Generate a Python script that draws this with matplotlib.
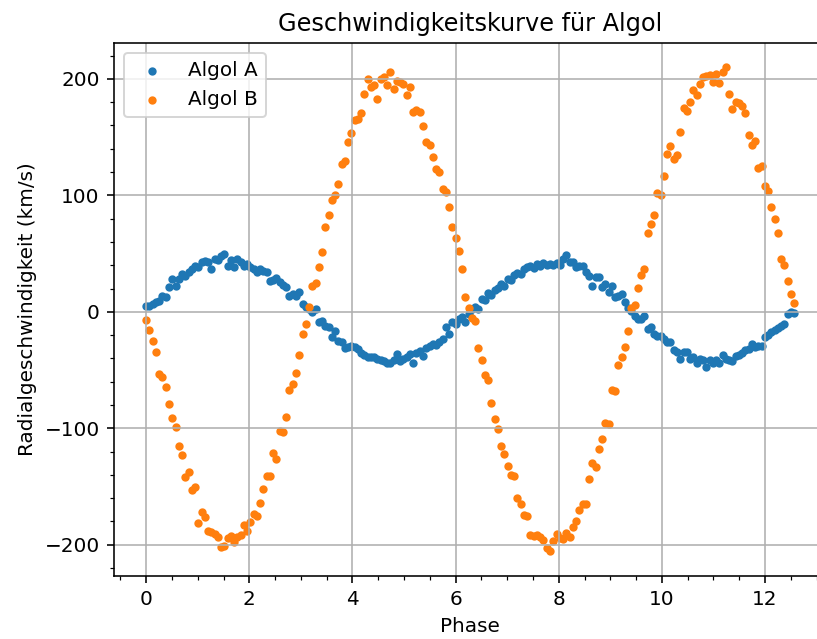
import numpy as np
import matplotlib
matplotlib.use("Agg")
import matplotlib.pyplot as plt

# 200 equally spaced phase samples over two full periods
phase = np.linspace(0, 4 * np.pi, 200)

# radial velocity of Algol A (km/s)
algol_a = [
    5.2, 4.9, 6.6, 8.0, 9.5, 13.8, 12.9, 21.0, 28.1, 22.4,
    28.1, 32.4, 30.8, 33.9, 36.8, 39.6, 38.4, 42.5, 43.9, 43.0,
    36.8, 45.4, 44.1, 48.2, 49.7, 39.6, 44.8, 38.2, 45.4, 42.5,
    39.6, 41.2, 38.2, 36.8, 33.9, 36.8, 35.3, 34.4, 26.7, 27.5,
    29.1, 25.3, 23.4, 21.0, 13.8, 15.1, 13.8, 16.7, 6.6, 4.2,
    2.3, -0.5, 2.3, -9.1, -7.7, -12.0, -13.4, -22.0, -16.4, -25.0,
    -26.3, -31.5, -30.6, -29.4, -30.6, -32.1, -35.0, -37.2, -39.2, -38.5,
    -39.2, -40.7, -41.3, -42.6, -43.6, -44.2, -41.8, -36.4, -42.2, -40.7,
    -38.9, -36.4, -44.2, -35.0, -33.6, -37.9, -31.2, -29.3, -27.8, -28.9,
    -26.3, -23.5, -13.4, -19.2, -9.1, -10.4, -6.3, -4.8, -8.9, -2.0,
    2.1, 3.9, 2.5, 11.2, 9.8, 16.1, 14.3, 18.6, 20.1, 23.7,
    22.4, 28.3, 26.9, 31.2, 33.6, 32.1, 36.5, 38.4, 39.6, 37.8,
    40.9, 39.4, 41.7, 40.2, 41.1, 39.8, 42.3, 40.6, 45.1, 48.7,
    42.6, 42.5, 38.2, 39.6, 39.0, 33.9, 31.0, 22.4, 29.6, 29.9,
    21.0, 23.6, 16.7, 22.4, 12.4, 13.8, 15.2, 8.1, 3.6, 0.9,
    -3.8, -6.3, -6.3, -3.4, -15.1, -13.4, -19.2, -21.1, -20.6, -23.5,
    -26.1, -25.8, -33.0, -34.2, -40.9, -34.1, -34.4, -40.7, -39.1, -44.2,
    -40.8, -41.3, -47.0, -41.3, -43.6, -41.3, -44.2, -37.3, -40.5, -41.3,
    -42.2, -37.9, -36.8, -35.5, -33.2, -32.1, -27.8, -30.4, -29.3, -29.3,
    -22.0, -20.3, -17.7, -15.5, -13.8, -12.0, -10.6, -2.0, -0.5, -1.1,
]

# radial velocity of Algol B (km/s)
algol_b = [
    -7.2, -15.6, -24.8, -34.2, -53.7, -55.9, -64.8, -79.3, -91.2, -99.1,
    -115.4, -123.2, -141.8, -137.9, -153.1, -150.2, -181.7, -172.3, -176.1, -187.9,
    -189.2, -190.6, -193.1, -202.3, -201.1, -194.2, -192.1, -197.3, -193.2, -191.8,
    -183.1, -188.3, -180.2, -173.4, -175.1, -164.2, -152.3, -141.1, -140.8, -121.2,
    -126.1, -102.3, -103.1, -90.2, -67.3, -62.1, -52.4, -37.1, -19.2, -10.3,
    4.1, 22.4, 24.7, 38.2, 51.1, 72.6, 83.5, 96.2, 99.9, 109.9,
    127.1, 129.1, 145.8, 153.6, 164.4, 165.9, 171.0, 187.4, 200.3, 193.2,
    194.5, 183.1, 200.3, 201.8, 194.5, 206.1, 191.7, 198.0, 197.5, 196.0,
    186.0, 193.2, 171.6, 173.2, 171.6, 159.6, 145.8, 142.9, 132.9, 122.8,
    120.0, 105.6, 102.8, 89.9, 72.6, 63.4, 52.5, 36.8, 12.4, 3.1,
    -5.1, -8.3, -31.2, -41.4, -54.6, -58.3, -77.9, -92.1, -100.4, -115.2,
    -122.3, -132.1, -140.2, -141.0, -160.3, -165.1, -174.8, -175.6, -191.7, -192.3,
    -191.5, -193.0, -196.2, -203.1, -205.8, -196.4, -190.9, -194.2, -195.1, -190.3,
    -193.2, -185.1, -179.4, -170.2, -165.3, -164.8, -143.2, -130.1, -133.4, -118.2,
    -109.1, -95.3, -96.1, -67.2, -68.4, -46.1, -39.2, -29.8, -16.3, 3.4,
    6.1, 20.2, 31.8, 37.1, 67.9, 75.2, 83.4, 101.8, 100.2, 116.3,
    135.9, 142.1, 131.2, 134.4, 154.1, 175.2, 172.3, 180.4, 190.1, 186.2,
    196.0, 201.3, 202.1, 203.0, 197.2, 204.1, 196.3, 206.2, 209.8, 187.1,
    174.2, 179.8, 179.1, 176.9, 170.3, 152.1, 143.2, 147.0, 123.1, 125.2,
    108.3, 104.1, 90.2, 80.1, 67.8, 45.2, 40.1, 26.3, 15.1, 7.2,
]

fig = plt.figure(figsize=(817 / 144, 639 / 144), dpi=144)
# the original screenshot is cut off on the right, so the axes run past the edge
ax = fig.add_axes([0.1393, 0.0991, 0.8725, 0.8332])

ax.scatter(phase, algol_a, s=10, label="Algol A")
ax.scatter(phase, algol_b, s=10, label="Algol B")

ax.set_title("Geschwindigkeitskurve für Algol")
ax.set_xlabel("Phase")
ax.set_ylabel("Radialgeschwindigkeit (km/s)")
ax.minorticks_on()
ax.grid(True)
ax.legend(loc="upper left")

fig.savefig("out.png", dpi=144)
